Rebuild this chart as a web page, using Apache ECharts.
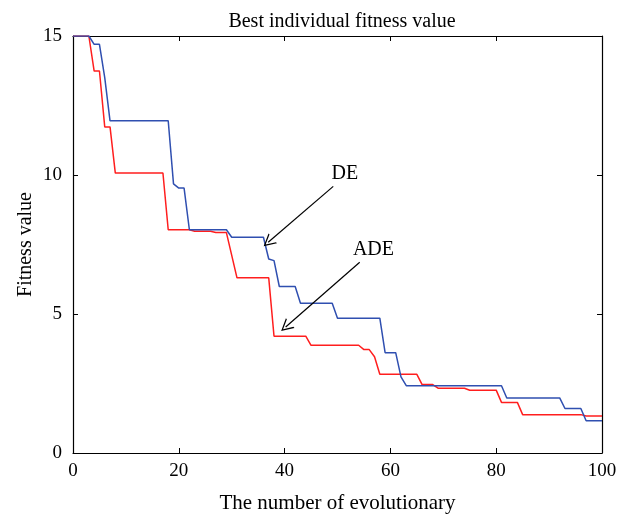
<!DOCTYPE html>
<html>
<head>
<meta charset="utf-8">
<script src="https://cdn.jsdelivr.net/npm/echarts@6/dist/echarts.min.js"></script>
<style>
  html, body { margin: 0; padding: 0; background: #fff; }
  #chart { width: 631px; height: 516px; }
</style>
</head>
<body>
<div id="chart"></div>
<script>
// corner points of the step curves
var deGen = [0, 3, 4, 5, 6, 7, 18, 19, 20, 21, 22, 29, 30, 36, 37, 38, 39, 42, 43, 49, 50, 58, 59, 61, 62, 63, 81, 82, 92, 93, 96, 97, 100];
var deVal = [15, 15, 14.7, 14.7, 13.5, 11.95, 11.95, 9.68, 9.53, 9.53, 8.03, 8.03, 7.76, 7.76, 6.98, 6.92, 5.99, 5.99, 5.39, 5.39, 4.85, 4.85, 3.61, 3.61, 2.74, 2.42, 2.42, 1.98, 1.98, 1.6, 1.6, 1.16, 1.16];
var adeGen = [0, 3, 4, 5, 6, 7, 8, 17, 18, 22, 23, 26, 27, 29, 31, 37, 38, 44, 45, 54, 55, 56, 57, 58, 65, 66, 68, 69, 74, 75, 80, 81, 84, 85, 96, 97, 100];
var adeVal = [15, 15, 13.74, 13.74, 11.73, 11.73, 10.07, 10.07, 8.03, 8.03, 7.98, 7.98, 7.93, 7.93, 6.3, 6.3, 4.2, 4.2, 3.875, 3.875, 3.72, 3.72, 3.46, 2.83, 2.83, 2.46, 2.46, 2.33, 2.33, 2.26, 2.26, 1.82, 1.82, 1.38, 1.38, 1.33, 1.33];
var xTicks = [0, 20, 40, 60, 80, 100];
var yTicks = [0, 5, 10, 15];

var serif = '"Liberation Serif", "DejaVu Serif", serif';

function pairs(xs, ys) {
  var out = [];
  for (var i = 0; i < xs.length; i++) {
    out.push([xs[i], ys[i]]);
  }
  return out;
}

// open "V" arrow head
var vHead = 'path://M0,0 L6,12 L4.6,12 L0,2.6 L-4.6,12 L-6,12 Z';

function note(text, tail, tip, pos) {
  return {
    markLine: {
      silent: true,
      symbol: ['none', vHead],
      symbolSize: [13, 12],
      lineStyle: { color: '#000', width: 1.2, type: 'solid' },
      label: { show: false },
      data: [[{ coord: tail }, { coord: tip }]]
    },
    markPoint: {
      silent: true,
      symbol: 'rect',
      symbolSize: 1,
      itemStyle: { color: 'rgba(0,0,0,0)' },
      label: {
        show: true, position: 'inside', formatter: text,
        color: '#000', fontSize: 20, fontFamily: serif
      },
      data: [{ coord: pos }]
    }
  };
}

var chart = echarts.init(document.getElementById('chart'));

var deNote = note('DE', [49.2, 9.59], [36.9, 7.58], [51.4, 10.04]);
var adeNote = note('ADE', [54.2, 6.86], [40.2, 4.53], [56.8, 7.32]);

var boxAxis = {
  min: 0,
  axisLine: { show: true, onZero: false, lineStyle: { color: '#000', width: 1.2 } },
  axisTick: { show: true, inside: true, length: 5, lineStyle: { color: '#000' } },
  splitLine: { show: false }
};

chart.setOption({
  animation: false,
  title: {
    text: 'Best individual fitness value',
    left: 337, top: 7, textAlign: 'center',
    textStyle: { fontFamily: serif, fontWeight: 'normal', fontSize: 20, color: '#000' }
  },
  grid: { left: 73, right: 29, top: 36, bottom: 63, outerBoundsMode: 'none' },
  xAxis: [
    Object.assign({}, boxAxis, {
      type: 'value', max: 100, interval: 20, position: 'bottom',
      name: 'The number of evolutionary', nameLocation: 'middle', nameGap: 40,
      nameTextStyle: { fontFamily: serif, fontSize: 21, color: '#000' },
      axisLabel: {
        fontFamily: serif, fontSize: 19, color: '#000', margin: 9,
        customValues: xTicks
      }
    }),
    Object.assign({}, boxAxis, {
      type: 'value', max: 100, interval: 20, position: 'top',
      axisLabel: { show: false }
    })
  ],
  yAxis: [
    Object.assign({}, boxAxis, {
      type: 'value', max: 15, interval: 5, position: 'left',
      name: 'Fitness value', nameLocation: 'middle', nameGap: 37,
      nameMoveOverlap: false,
      nameTextStyle: { fontFamily: serif, fontSize: 20, color: '#000' },
      axisLabel: {
        fontFamily: serif, fontSize: 19, color: '#000', margin: 11,
        customValues: yTicks
      }
    }),
    Object.assign({}, boxAxis, {
      type: 'value', max: 15, interval: 5, position: 'right',
      axisLabel: { show: false }
    })
  ],
  series: [
    Object.assign({
      name: 'DE',
      type: 'line',
      data: pairs(deGen, deVal),
      showSymbol: false,
      lineStyle: { color: '#2f4fb0', width: 1.5 },
      itemStyle: { color: '#2f4fb0' },
      z: 3
    }, deNote),
    Object.assign({
      name: 'ADE',
      type: 'line',
      data: pairs(adeGen, adeVal),
      showSymbol: false,
      lineStyle: { color: '#ff1e1e', width: 1.5 },
      itemStyle: { color: '#ff1e1e' },
      z: 2
    }, adeNote)
  ]
});
</script>
</body>
</html>
